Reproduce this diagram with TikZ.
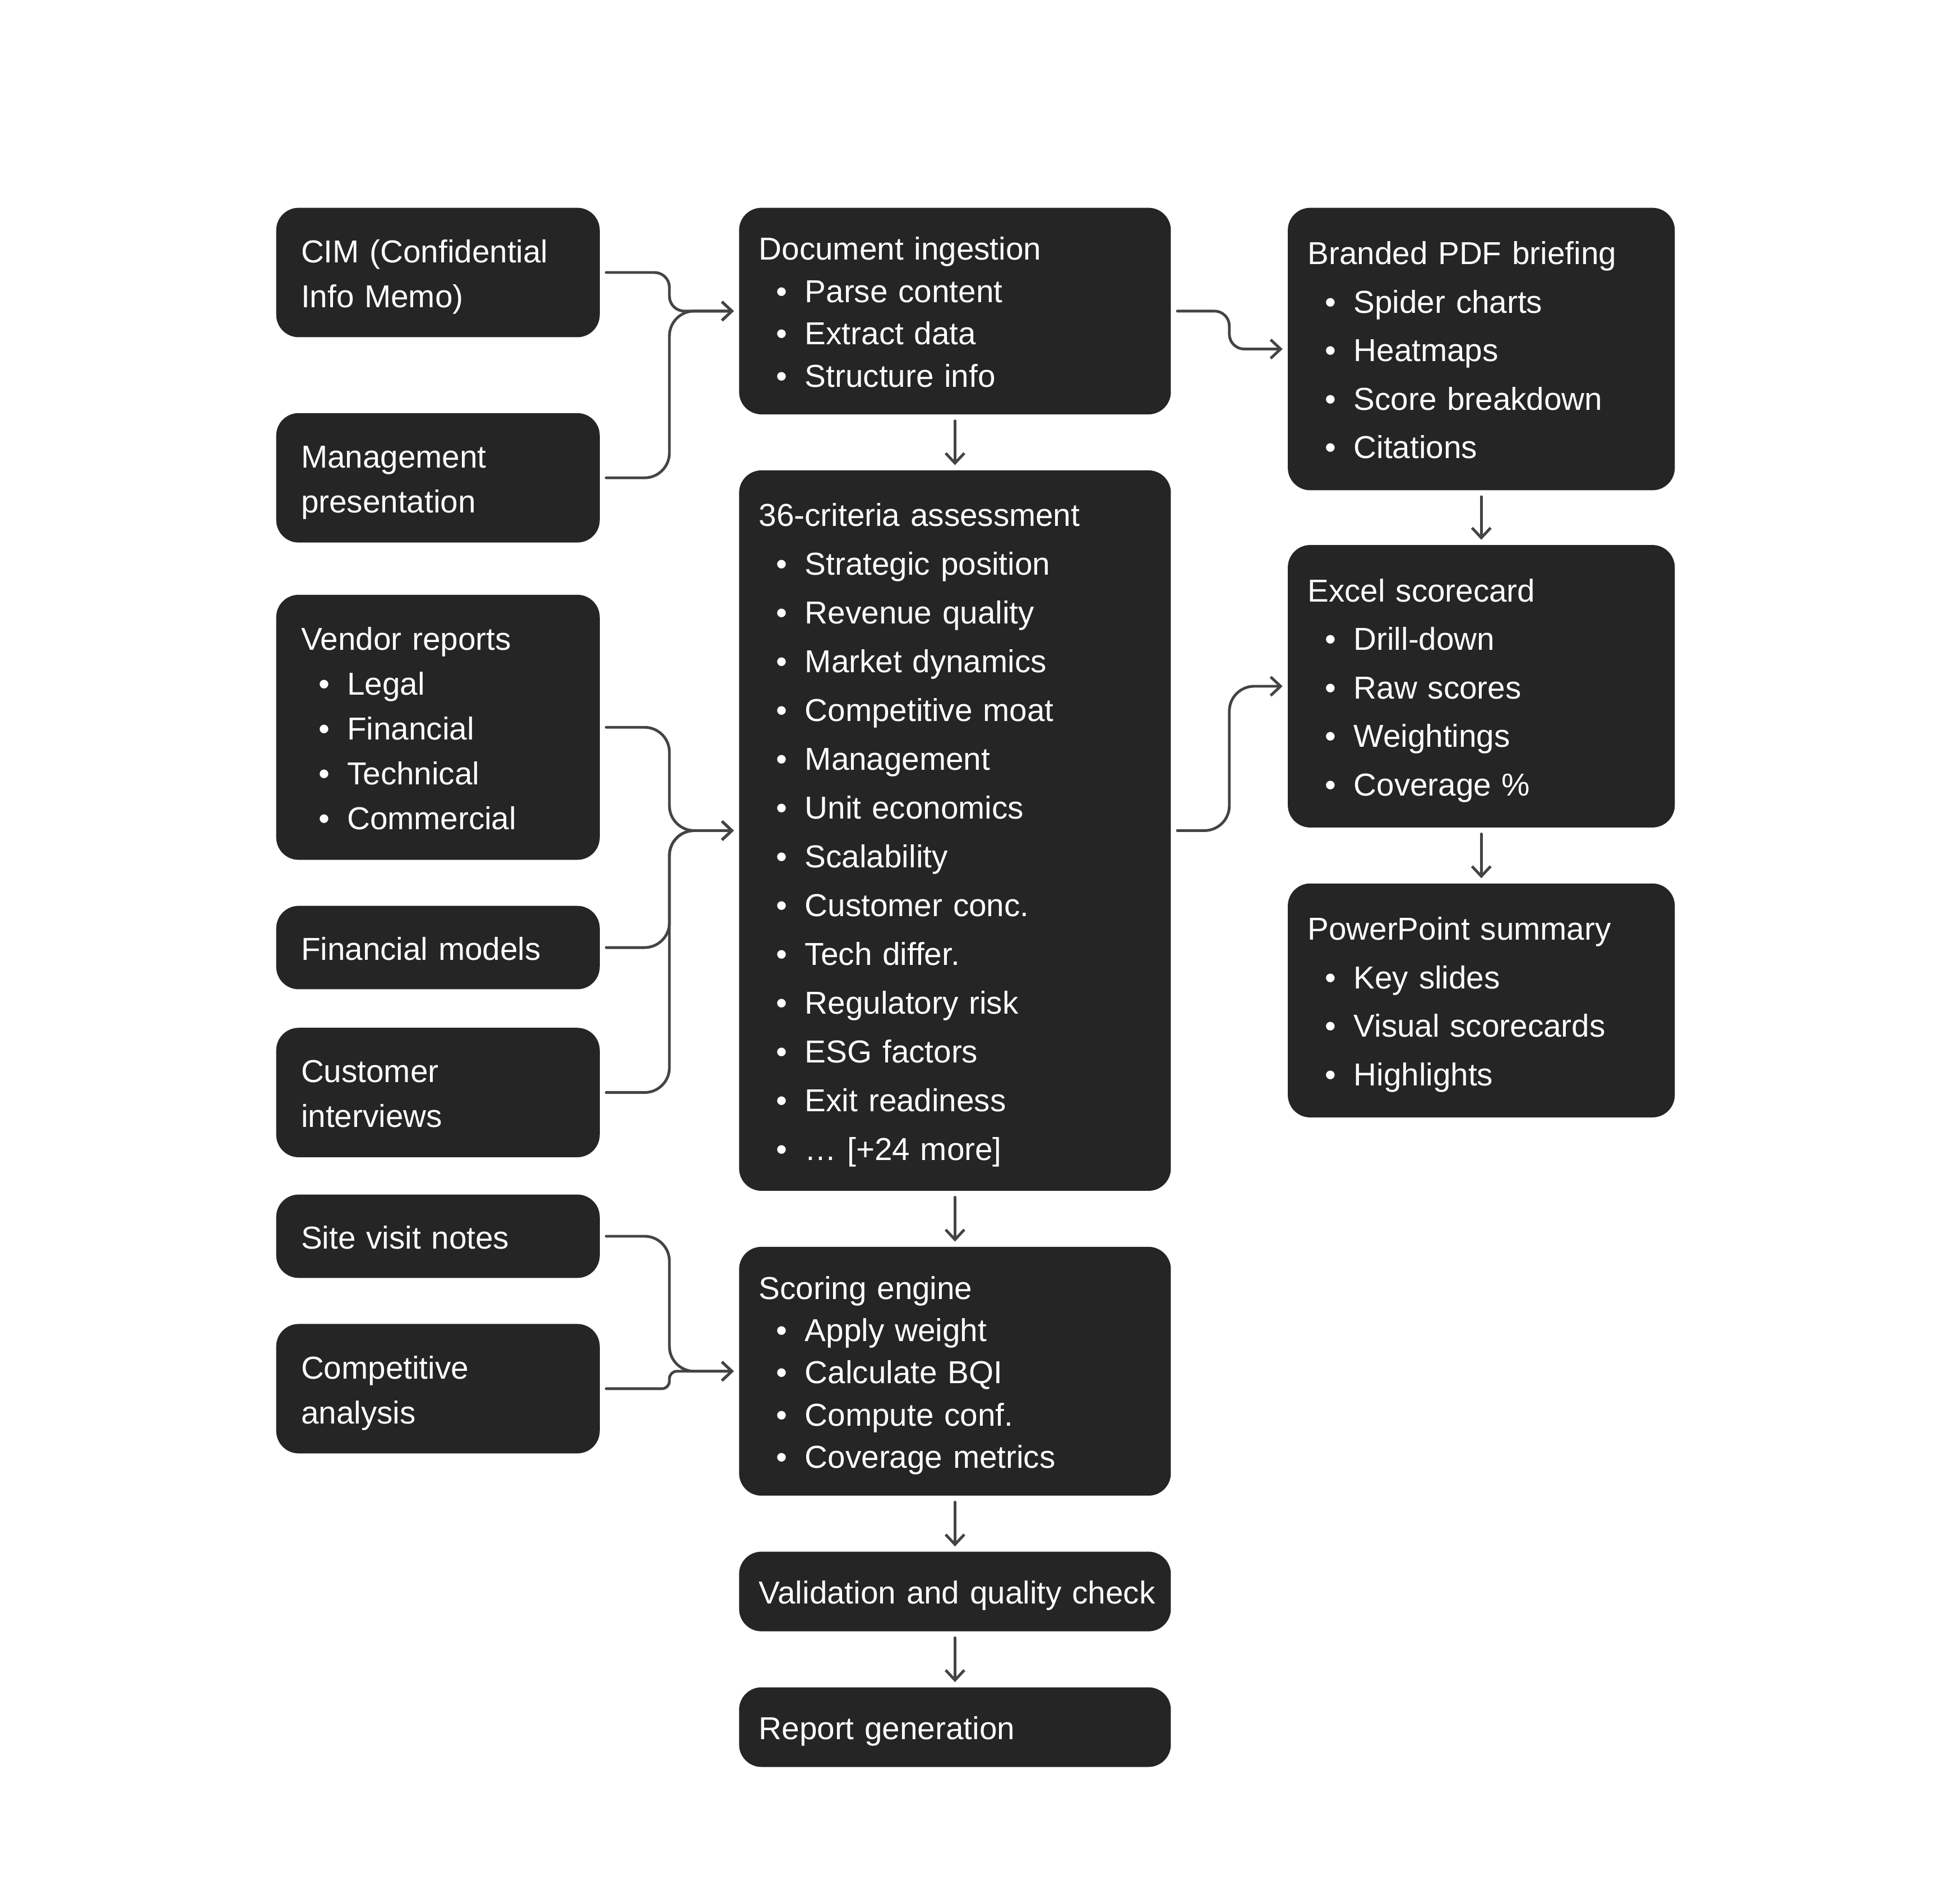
\documentclass[tikz,border=0pt]{standalone}
\usepackage{fontspec}
\setmainfont{Liberation Sans}
\usetikzlibrary{arrows.meta}
\definecolor{boxfill}{HTML}{252525}
\definecolor{linkgray}{HTML}{444444}
\newcommand\bul[1]{\makebox[37pt][l]{\hspace*{14pt}\textbullet}#1}
\newcommand\boxtop{\rule{0pt}{26pt}}
\newcommand\boxbot{\rule[-6pt]{0pt}{0pt}}

\tikzset{
  blk/.style={fill=boxfill, rounded corners=18pt, text=white, align=left, inner ysep=0pt,
    execute at begin node=\boxtop, execute at end node=\boxbot},
  leftbox/.style={blk, text width=220pt, inner xsep=20pt, font=\fontsize{25.5}{36}\selectfont},
  midbox/.style={blk, text width=315pt, inner xsep=16pt, font=\fontsize{25.5}{34}\selectfont},
  rightbox/.style={blk, text width=279pt, inner xsep=16pt, font=\fontsize{25.5}{39}\selectfont},
  link/.style={draw=linkgray, line width=2.2pt, line cap=round, line join=round,
    -{Straight Barb[length=8pt,width=15pt,line width=2.2pt]},
    shorten <=5pt, shorten >=4pt},
}

\begin{document}
\begin{tikzpicture}[x=1pt, y=-1pt]
		%%%%% START %%%%%
		\useasboundingbox[fill=white] (0, 0) rectangle (1568, 1530);

		% sources
		\node[leftbox, minimum height=104pt] (cim) at (352, 219) {CIM (Confidential\\Info Memo)};
		\node[leftbox, minimum height=104pt] (mgmt) at (352, 384) {Management\\presentation};
		\node[leftbox, minimum height=213pt] (vendor) at (352, 584.5) {Vendor reports\\\bul{Legal}\\\bul{Financial}\\\bul{Technical}\\\bul{Commercial}};
		\node[leftbox, minimum height=67pt] (finmod) at (352, 761.5) {Financial models};
		\node[leftbox, minimum height=104pt] (custint) at (352, 878) {Customer\\interviews};
		\node[leftbox, minimum height=67pt] (sitevis) at (352, 993.5) {Site visit notes};
		\node[leftbox, minimum height=104pt] (compan) at (352, 1116) {Competitive\\analysis};

		% pipeline
		\node[midbox, minimum height=166pt] (ingest) at (767.5, 250) {Document ingestion\\\bul{Parse content}\\\bul{Extract data}\\\bul{Structure info}};
		\node[midbox, minimum height=579pt, font=\fontsize{25.5}{39.2}\selectfont] (crit) at (767.5, 667.5) {36-criteria assessment\\\bul{Strategic position}\\\bul{Revenue quality}\\\bul{Market dynamics}\\\bul{Competitive moat}\\\bul{Management}\\\bul{Unit economics}\\\bul{Scalability}\\\bul{Customer conc.}\\\bul{Tech differ.}\\\bul{Regulatory risk}\\\bul{ESG factors}\\\bul{Exit readiness}\\\bul{… [+24 more]}};
		\node[midbox, minimum height=200pt] (scoring) at (767.5, 1102) {Scoring engine\\\bul{Apply weight}\\\bul{Calculate BQI}\\\bul{Compute conf.}\\\bul{Coverage metrics}};
		\node[midbox, minimum height=64pt] (valid) at (767.5, 1279) {\mbox{Validation and quality check}};
		\node[midbox, minimum height=64pt] (report) at (767.5, 1388) {Report generation};

		% outputs
		\node[rightbox, minimum height=227pt] (pdf) at (1190.5, 280.5) {Branded PDF briefing\\\bul{Spider charts}\\\bul{Heatmaps}\\\bul{Score breakdown}\\\bul{Citations}};
		\node[rightbox, minimum height=227pt] (excel) at (1190.5, 551.5) {Excel scorecard\\\bul{Drill-down}\\\bul{Raw scores}\\\bul{Weightings}\\\bul{Coverage \%}};
		\node[rightbox, minimum height=188pt] (ppt) at (1190.5, 804) {PowerPoint summary\\\bul{Key slides}\\\bul{Visual scorecards}\\\bul{Highlights}};

		\coordinate (busL) at (538, 0);
		\coordinate (busR) at (988, 0);

		% inputs into the pipeline
		\draw[link, rounded corners=12pt] (cim.east) -- (busL |- cim.east) |- (ingest.west);
		\draw[link, rounded corners=20pt] (mgmt.east) -- (busL |- mgmt.east) |- (ingest.west);
		\draw[link, rounded corners=20pt] (vendor.east) -- (busL |- vendor.east) |- (crit.west);
		\draw[link, rounded corners=20pt] (finmod.east) -- (busL |- finmod.east) |- (crit.west);
		\draw[link, rounded corners=20pt] (custint.east) -- (busL |- custint.east) |- (crit.west);
		\draw[link, rounded corners=20pt] (sitevis.east) -- (busL |- sitevis.east) |- (scoring.west);
		\draw[link, rounded corners=6pt] (compan.east) -- (busL |- compan.east) |- (scoring.west);

		% down the pipeline
		\draw[link] (ingest) -- (crit);
		\draw[link] (crit) -- (scoring);
		\draw[link] (scoring) -- (valid);
		\draw[link] (valid) -- (report);

		% outputs
		\draw[link, rounded corners=12pt] (ingest.east) -- (busR |- ingest.east) |- (pdf.west);
		\draw[link, rounded corners=20pt] (crit.east) -- (busR |- crit.east) |- (excel.west);
		\draw[link] (pdf) -- (excel);
		\draw[link] (excel) -- (ppt);
		%%%%% END %%%%%
\end{tikzpicture}
\end{document}
